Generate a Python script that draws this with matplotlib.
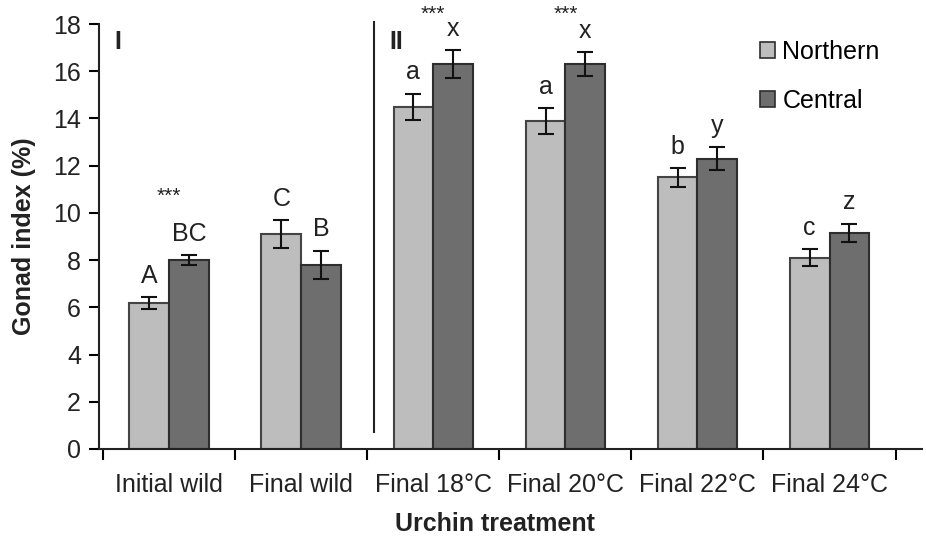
import numpy as np
import matplotlib
matplotlib.use("Agg")
import matplotlib.pyplot as plt
from matplotlib.patches import Patch

plt.rcParams["font.family"] = ["Liberation Sans", "DejaVu Sans"]

# =============================================================================
# DATA
# =============================================================================

treatments = ["Initial wild", "Final wild", "Final 18°C", "Final 20°C",
              "Final 22°C", "Final 24°C"]

northern     = [6.2, 9.1, 14.5, 13.9, 11.5, 8.1]
northern_err = [0.25, 0.6, 0.55, 0.55, 0.4, 0.35]
central      = [8.0, 7.8, 16.3, 16.3, 12.3, 9.15]
central_err  = [0.2, 0.6, 0.6, 0.5, 0.5, 0.4]

northern_letters = ["A", "C", "a", "a", "b", "c"]
central_letters  = ["BC", "B", "x", "x", "y", "z"]

# significance stars between populations: (treatment index, y)
stars_idx = [0, 2, 3]
stars_y   = [10.7, 18.4, 18.4]

# =============================================================================
# PLOT
# =============================================================================

c_north = "#bdbdbd"
c_cent  = "#6e6e6e"
edge    = "#2e2e2e"
fs      = 18

fig = plt.figure(figsize=(9.26, 5.39), dpi=100)
ax = fig.add_axes([99 / 926, 1 - 449 / 539, (922 - 99) / 926, (449 - 24) / 539])

x = np.arange(len(treatments))
w = 0.3

ax.bar(x - w / 2, northern, w, color=c_north, edgecolor="#444444", linewidth=1.5,
       zorder=2)
ax.bar(x + w / 2, central, w, color=c_cent, edgecolor=edge, linewidth=1.5,
       zorder=2)
ax.errorbar(x - w / 2, northern, yerr=northern_err, fmt="none", ecolor="#111111",
            elinewidth=1.5, capsize=6, capthick=1.5, zorder=3)
ax.errorbar(x + w / 2, central, yerr=central_err, fmt="none", ecolor="#111111",
            elinewidth=1.5, capsize=6, capthick=1.5, zorder=3)

# group letters above error bars
for i in range(len(treatments)):
    ax.text(x[i] - w / 2, northern[i] + northern_err[i] + 0.6, northern_letters[i],
            ha="center", va="baseline", fontsize=fs, color="#222222")
    ax.text(x[i] + w / 2, central[i] + central_err[i] + 0.6, central_letters[i],
            ha="center", va="baseline", fontsize=fs, color="#222222")

for i, sy in zip(stars_idx, stars_y):
    ax.text(x[i], sy, "***", ha="center", va="center", fontsize=15,
            color="#222222", clip_on=False)

# experiment divider and panel labels
ax.plot([1.55, 1.55], [0.7, 18.1], color="#222222", linewidth=1.5,
        clip_on=False)
ax.text(-0.39, 17.25, "I", ha="center", va="center", fontsize=fs,
        fontweight="bold", color="#222222")
ax.text(1.72, 17.25, "II", ha="center", va="center", fontsize=fs,
        fontweight="bold", color="#222222")

# axes
ax.set_xlim(-0.53, 5.70)
ax.set_ylim(0, 18)
ax.set_yticks(np.arange(0, 19, 2))
ax.set_xticks(x)
ax.set_xticklabels(treatments, fontsize=fs, color="#222222")
ax.set_xticks(np.arange(-0.5, 6, 1), minor=True)
ax.tick_params(axis="x", which="major", length=0, pad=17)
ax.tick_params(axis="x", which="minor", length=8, width=1.5, direction="out")
ax.tick_params(axis="y", length=7, width=1.5, pad=6, labelsize=fs,
               labelcolor="#222222")

for s in ["top", "right"]:
    ax.spines[s].set_visible(False)
for s in ["left", "bottom"]:
    ax.spines[s].set_linewidth(1.5)
    ax.spines[s].set_color("#222222")

ax.set_ylabel("Gonad index (%)", fontsize=fs, fontweight="bold", color="#222222")
ax.yaxis.set_label_coords((36 - 99) / 823, 0.5)
ax.set_xlabel("Urchin treatment", fontsize=fs, fontweight="bold", color="#222222")
ax.xaxis.set_label_coords((495 - 99) / 823, (449 - 512) / 425)

handles = [Patch(facecolor=c_north, edgecolor=edge, linewidth=1.2),
           Patch(facecolor=c_cent, edgecolor=edge, linewidth=1.2)]
ax.legend(handles, ["Northern", "Central"], loc="upper left",
          bbox_to_anchor=((760 - 99) / 823, (449 - 40) / 425),
          frameon=False, fontsize=fs, handlelength=0.6, handleheight=0.6,
          handletextpad=0.3, labelspacing=1.0, borderpad=0, borderaxespad=0)

fig.savefig("out.png", dpi=100)
